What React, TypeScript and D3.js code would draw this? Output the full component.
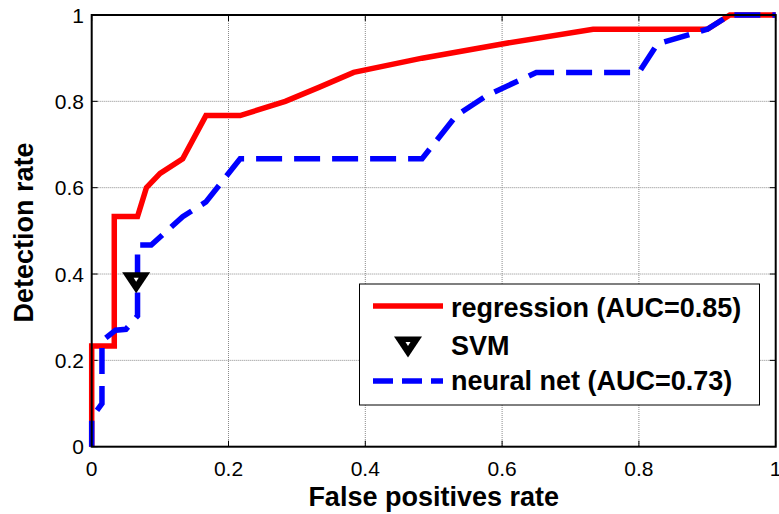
import * as d3 from 'd3';

// ROC points
const regFpr = [0, 0, 0.033, 0.033, 0.067, 0.08, 0.1, 0.133, 0.167, 0.217, 0.283, 0.333, 0.383, 0.483, 0.6, 0.733, 0.9, 0.933, 1];
const regTpr = [0, 0.233, 0.233, 0.533, 0.533, 0.6, 0.633, 0.667, 0.767, 0.767, 0.8, 0.833, 0.867, 0.9, 0.933, 0.967, 0.967, 1, 1];

const nnFpr = [0, 0, 0.015, 0.015, 0.035, 0.05, 0.067, 0.067, 0.087, 0.133, 0.167, 0.217, 0.483, 0.533, 0.577, 0.65, 0.8, 0.827, 0.9, 0.933, 1];
const nnTpr = [0, 0.067, 0.1, 0.245, 0.27, 0.272, 0.303, 0.467, 0.467, 0.533, 0.567, 0.667, 0.667, 0.767, 0.813, 0.867, 0.867, 0.933, 0.967, 1, 1];

const svmPoint = [0.065, 0.38];

const xTicks = [0, 0.2, 0.4, 0.6, 0.8, 1];
const yTicks = [0, 0.2, 0.4, 0.6, 0.8, 1];
const tickLabels = ['0', '0.2', '0.4', '0.6', '0.8', '1'];

const legendLabels = ['regression (AUC=0.85)', 'SVM', 'neural net (AUC=0.73)'];

const W = 779;
const H = 514;
const left = 91.7;
const right = 775.7;
const top = 15;
const bottom = 446.7;
const font = "'Liberation Sans', Arial, Helvetica, sans-serif";

export default function App() {
  const x = d3.scaleLinear().domain([0, 1]).range([left, right]);
  const y = d3.scaleLinear().domain([0, 1]).range([bottom, top]);

  const line = d3
    .line<[number, number]>()
    .x((d) => x(d[0]))
    .y((d) => y(d[1]));

  const regData = regFpr.map((v, i) => [v, regTpr[i]] as [number, number]);
  const nnData = nnFpr.map((v, i) => [v, nnTpr[i]] as [number, number]);

  const tri = (cx: number, cy: number, w: number, h: number) =>
    `M${cx - w / 2},${cy - h / 2}L${cx + w / 2},${cy - h / 2}L${cx},${cy + h / 2}Z`;

  const sx = x(svmPoint[0]);
  const sy = y(svmPoint[1]);

  // legend layout
  const lgX = 359.5;
  const lgY = 284;
  const lgW = 400;
  const lgH = 121;
  const rowY = [306, 347, 381];
  const baseY = [317, 355, 390];

  return (
    <svg width={W} height={H} style={{ position: 'absolute', left: 0, top: 0, background: '#fff' }}>
      <rect x={0} y={0} width={W} height={H} fill="#fff" />

      {/* grid */}
      {xTicks.slice(1, -1).map((t) => (
        <line key={'gx' + t} x1={x(t)} x2={x(t)} y1={top} y2={bottom} stroke="#8a8a8a" strokeWidth={1} strokeDasharray="1 1" />
      ))}
      {yTicks.slice(1, -1).map((t) => (
        <line key={'gy' + t} x1={left} x2={right} y1={y(t)} y2={y(t)} stroke="#8a8a8a" strokeWidth={1} strokeDasharray="1 1" />
      ))}

      {/* ticks */}
      {xTicks.map((t) => (
        <g key={'tx' + t}>
          <line x1={x(t)} x2={x(t)} y1={bottom} y2={bottom - 6} stroke="#000" strokeWidth={1} />
          <line x1={x(t)} x2={x(t)} y1={top} y2={top + 6} stroke="#000" strokeWidth={1} />
        </g>
      ))}
      {yTicks.map((t) => (
        <g key={'ty' + t}>
          <line x1={left} x2={left + 6} y1={y(t)} y2={y(t)} stroke="#000" strokeWidth={1} />
          <line x1={right} x2={right - 6} y1={y(t)} y2={y(t)} stroke="#000" strokeWidth={1} />
        </g>
      ))}

      {/* curves */}
      <path d={line(regData) || ''} fill="none" stroke="#ff0000" strokeWidth={5.5} strokeLinejoin="miter" />
      <path d={line(nnData) || ''} fill="none" stroke="#0000ff" strokeWidth={5.5} strokeDasharray="26 12" />

      {/* SVM marker */}
      <path d={tri(sx, sy, 28, 21)} fill="#000" />
      <path d={tri(sx, sy - 3, 5, 4)} fill="#fff" />

      {/* axes box */}
      <rect x={left} y={top} width={right - left} height={bottom - top} fill="none" stroke="#000" strokeWidth={2} />

      {/* tick labels */}
      {xTicks.map((t, i) => (
        <text key={'lx' + t} x={x(t)} y={475.5} textAnchor="middle" fontFamily={font} fontSize={21} fill="#000">
          {tickLabels[i]}
        </text>
      ))}
      {yTicks.map((t, i) => (
        <text key={'ly' + t} x={84} y={y(t) + 7.5} textAnchor="end" fontFamily={font} fontSize={21} fill="#000">
          {tickLabels[i]}
        </text>
      ))}

      {/* axis titles */}
      <text x={(left + right) / 2} y={506} textAnchor="middle" fontFamily={font} fontSize={27} fontWeight="bold" fill="#000">
        False positives rate
      </text>
      <text transform="translate(33,232.5) rotate(-90)" textAnchor="middle" fontFamily={font} fontSize={27} fontWeight="bold" fill="#000">
        Detection rate
      </text>

      {/* legend */}
      <rect x={lgX} y={lgY} width={lgW} height={lgH} fill="#fff" stroke="#000" strokeWidth={1} />
      <line x1={373} x2={443} y1={rowY[0]} y2={rowY[0]} stroke="#ff0000" strokeWidth={5.5} />
      <path d={tri(408, rowY[1], 28, 21)} fill="#000" />
      <path d={tri(408, rowY[1] - 3, 5, 4)} fill="#fff" />
      <line x1={373} x2={443} y1={rowY[2]} y2={rowY[2]} stroke="#0000ff" strokeWidth={5.5} strokeDasharray="20 9" />
      {legendLabels.map((l, i) => (
        <text key={l} x={451} y={baseY[i]} fontFamily={font} fontSize={27} fontWeight="bold" fill="#000">
          {l}
        </text>
      ))}
    </svg>
  );
}
